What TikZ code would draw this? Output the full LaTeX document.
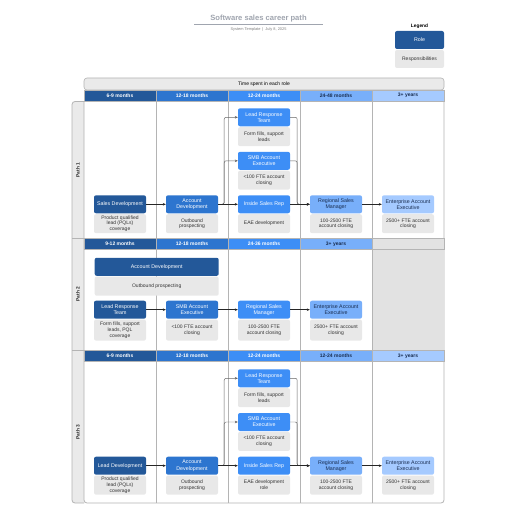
\documentclass[tikz,border=0pt]{standalone}
\usepackage{fontspec}
\setmainfont{Liberation Sans}
\usetikzlibrary{positioning, arrows.meta}

\hyphenpenalty=10000
\exhyphenpenalty=10000

\definecolor{blueA}{RGB}{35,88,153}
\definecolor{blueB}{RGB}{45,117,207}
\definecolor{blueC}{RGB}{61,142,246}
\definecolor{blueD}{RGB}{120,175,250}
\definecolor{blueE}{RGB}{165,202,255}
\definecolor{navytext}{RGB}{25,45,80}
\definecolor{respgrey}{RGB}{232,232,232}
\definecolor{stripgrey}{RGB}{234,234,234}
\definecolor{emptygrey}{RGB}{226,226,226}
\definecolor{linegrey}{RGB}{180,180,180}
\definecolor{titlegrey}{RGB}{160,165,175}

\begin{document}
\begin{tikzpicture}[
    % Global Styles
    x=1pt, y=-1pt,
    >=Stealth,
    % Style for the grid of the table
    gridline/.style={draw=linegrey, line width=0.8pt},
    colhead/.style={draw=linegrey, line width=0.6pt, minimum width=72pt, minimum height=11.5pt, inner sep=0pt, font=\fontsize{5}{5.5}\selectfont\bfseries, text=white},
    pathtag/.style={rotate=90, font=\fontsize{4.8}{5}\selectfont\bfseries, text=black!85},
    % Style for roles and their responsibilities
    role/.style={rounded corners=2pt, minimum width=52pt, minimum height=18pt, text width=49pt, align=flush center, inner sep=1.5pt, font=\fontsize{5.3}{6.1}\selectfont, text=white},
    resp/.style={fill=respgrey, rounded corners=2pt, minimum width=52pt, minimum height=19pt, text width=45pt, align=flush center, inner sep=1pt, font=\fontsize{5}{5.8}\selectfont, text=black!80},
    % --- STYLES FOR LINKS ---
    mainlink/.style={-{Stealth[length=3pt, width=2.6pt]}, line width=0.7pt, black!85},
    branchlink/.style={-{Stealth[length=3pt, width=2.6pt]}, line width=0.45pt, black!60, rounded corners=2pt}
]
\path[use as bounding box, fill=white] (0,0) rectangle (516,516);

%% --- TITLE AND LEGEND ---
\node[font=\fontsize{7.6}{8}\selectfont\bfseries, text=titlegrey] (title) at (258.5,19) {Software sales career path};
\draw[titlegrey, line width=0.6pt] (194,24.5) -- (323,24.5);
\node[font=\fontsize{3.9}{4}\selectfont, text=black!50] (subtitle) at (258.5,30) {System Template\enspace|\enspace July 8, 2025};

\node[font=\fontsize{4.8}{5}\selectfont\bfseries] (legend) at (419.5,26) {Legend};
\node[role, fill=blueA, minimum width=49pt, text width=45pt] (legrole) at (419.5,40) {Role};
\node[resp, minimum width=49pt, minimum height=18pt, text width=45pt] (legresp) at (419.5,59) {Responsibilities};

%% --- TABLE FRAME ---
\node[draw=linegrey, line width=0.6pt, fill=stripgrey, rounded corners=3pt, minimum width=360pt, minimum height=12pt, inner sep=0pt, font=\fontsize{5}{5.5}\selectfont] (timebar) at (264,84) {Time spent in each role};

\draw[gridline, fill=stripgrey, rounded corners=3pt] (84,503) -- (72,503) -- (72,101.5) -- (84,101.5);
\draw[gridline, rounded corners=3pt] (84,101.5) -- (84,503) -- (444,503) -- (444,90);
\draw[gridline] (72,238) -- (84,238) (72,350) -- (84,350);

\node[pathtag] (tag1) at (78,170) {Path 1};
\node[pathtag] (tag2) at (78,294) {Path 2};
\node[pathtag] (tag3) at (78,432) {Path 3};

% empty column of path 2
\fill[emptygrey] (372,250) rectangle (444,350);

% Column lines
\draw[gridline] (156,101.5) -- (156,238) (228,101.5) -- (228,238) (300,101.5) -- (300,238) (372,101.5) -- (372,238);
\draw[gridline] (156,250) -- (156,350) (228,250) -- (228,350) (300,250) -- (300,350) (372,250) -- (372,350);
\draw[gridline] (156,362) -- (156,503) (228,362) -- (228,503) (300,362) -- (300,503) (372,362) -- (372,503);

% Headings
\node[colhead, fill=blueA] (h1a) at (120,95.75) {6-9 months};
\node[colhead, fill=blueB] (h1b) at (192,95.75) {12-18 months};
\node[colhead, fill=blueC] (h1c) at (264,95.75) {12-24 months};
\node[colhead, fill=blueD, text=navytext] (h1d) at (336,95.75) {24-48 months};
\node[colhead, fill=blueE, text=navytext] (h1e) at (408,95.75) {3+ years};

\node[colhead, fill=blueA] (h2a) at (120,244) {9-12 months};
\node[colhead, fill=blueB] (h2b) at (192,244) {12-18 months};
\node[colhead, fill=blueC] (h2c) at (264,244) {24-36 months};
\node[colhead, fill=blueD, text=navytext] (h2d) at (336,244) {3+ years};
\node[colhead, fill=emptygrey] (h2e) at (408,244) {};

\node[colhead, fill=blueA] (h3a) at (120,356) {6-9 months};
\node[colhead, fill=blueB] (h3b) at (192,356) {12-18 months};
\node[colhead, fill=blueC] (h3c) at (264,356) {12-24 months};
\node[colhead, fill=blueD, text=navytext] (h3d) at (336,356) {12-24 months};
\node[colhead, fill=blueE, text=navytext] (h3e) at (408,356) {3+ years};

%% --- PATH 1 ---
\node[role, fill=blueA] (SD1) at (120,204.3) {Sales Development};
\node[resp, below=0.5pt of SD1] (SD1r) {Product qualified lead (PQLs) coverage};
\node[role, fill=blueB] (AD1) at (192,204.3) {Account Development};
\node[resp, below=0.5pt of AD1] (AD1r) {Outbound prospecting};
\node[role, fill=blueC] (LRT1) at (264,117.3) {Lead Response Team};
\node[resp, below=0.5pt of LRT1] (LRT1r) {Form fills, support leads};
\node[role, fill=blueC] (SMB1) at (264,160.8) {SMB Account Executive};
\node[resp, below=0.5pt of SMB1] (SMB1r) {<100 FTE account closing};
\node[role, fill=blueC] (ISR1) at (264,204.3) {Inside Sales Rep};
\node[resp, below=0.5pt of ISR1] (ISR1r) {EAE development};
\node[role, fill=blueD, text=navytext] (RSM1) at (336,204.3) {Regional Sales Manager};
\node[resp, below=0.5pt of RSM1] (RSM1r) {100-2500 FTE account closing};
\node[role, fill=blueE, text=navytext] (EAE1) at (408,204.3) {Enterprise Account Executive};
\node[resp, below=0.5pt of EAE1] (EAE1r) {2500+ FTE account closing};

\draw[branchlink] (AD1.east) -- ++(6,0) |- (LRT1.west);
\draw[branchlink] (AD1.east) -- ++(6,0) |- (SMB1.west);
\draw[branchlink] (LRT1.east) -- ++(7,0) |- (RSM1.west);
\draw[branchlink] (SMB1.east) -- ++(7,0) |- (RSM1.west);
\draw[mainlink] (SD1) -- (AD1);
\draw[mainlink] (AD1) -- (ISR1);
\draw[mainlink] (ISR1) -- (RSM1);
\draw[mainlink] (RSM1) -- (EAE1);

%% --- PATH 2 ---
\node[role, fill=blueA, minimum width=124pt, text width=118pt] (AD2) at (156.7,266.8) {Account Development};
\node[resp, below=0.5pt of AD2, minimum width=124pt, text width=118pt] (AD2r) {Outbound prospecting};
\node[role, fill=blueA] (LRT2) at (120,309.7) {Lead Response Team};
\node[resp, below=0.5pt of LRT2, minimum height=21pt] (LRT2r) {Form fills, support leads, PQL coverage};
\node[role, fill=blueB] (SMB2) at (192,309.7) {SMB Account Executive};
\node[resp, below=0.5pt of SMB2, minimum height=21pt] (SMB2r) {<100 FTE account closing};
\node[role, fill=blueC] (RSM2) at (264,309.7) {Regional Sales Manager};
\node[resp, below=0.5pt of RSM2, minimum height=21pt] (RSM2r) {100-2500 FTE account closing};
\node[role, fill=blueD, text=navytext] (EAE2) at (336,309.7) {Enterprise Account Executive};
\node[resp, below=0.5pt of EAE2, minimum height=21pt] (EAE2r) {2500+ FTE account closing};

\draw[mainlink] (LRT2) -- (SMB2);
\draw[mainlink] (SMB2) -- (RSM2);
\draw[mainlink] (RSM2) -- (EAE2);

%% --- PATH 3 ---
\node[role, fill=blueA] (LD3) at (120,465.7) {Lead Development};
\node[resp, below=0.5pt of LD3] (LD3r) {Product qualified lead (PQLs) coverage};
\node[role, fill=blueB] (AD3) at (192,465.7) {Account Development};
\node[resp, below=0.5pt of AD3] (AD3r) {Outbound prospecting};
\node[role, fill=blueC] (LRT3) at (264,378.3) {Lead Response Team};
\node[resp, below=0.5pt of LRT3] (LRT3r) {Form fills, support leads};
\node[role, fill=blueC] (SMB3) at (264,422) {SMB Account Executive};
\node[resp, below=0.5pt of SMB3] (SMB3r) {<100 FTE account closing};
\node[role, fill=blueC] (ISR3) at (264,465.7) {Inside Sales Rep};
\node[resp, below=0.5pt of ISR3] (ISR3r) {EAE development role};
\node[role, fill=blueD, text=navytext] (RSM3) at (336,465.7) {Regional Sales Manager};
\node[resp, below=0.5pt of RSM3] (RSM3r) {100-2500 FTE account closing};
\node[role, fill=blueE, text=navytext] (EAE3) at (408,465.7) {Enterprise Account Executive};
\node[resp, below=0.5pt of EAE3] (EAE3r) {2500+ FTE account closing};

\draw[branchlink] (AD3.east) -- ++(6,0) |- (LRT3.west);
\draw[branchlink] (AD3.east) -- ++(6,0) |- (SMB3.west);
\draw[branchlink] (LRT3.east) -- ++(7,0) |- (RSM3.west);
\draw[branchlink] (SMB3.east) -- ++(7,0) |- (RSM3.west);
\draw[mainlink] (LD3) -- (AD3);
\draw[mainlink] (AD3) -- (ISR3);
\draw[mainlink] (ISR3) -- (RSM3);
\draw[mainlink] (RSM3) -- (EAE3);

\end{tikzpicture}
\end{document}
